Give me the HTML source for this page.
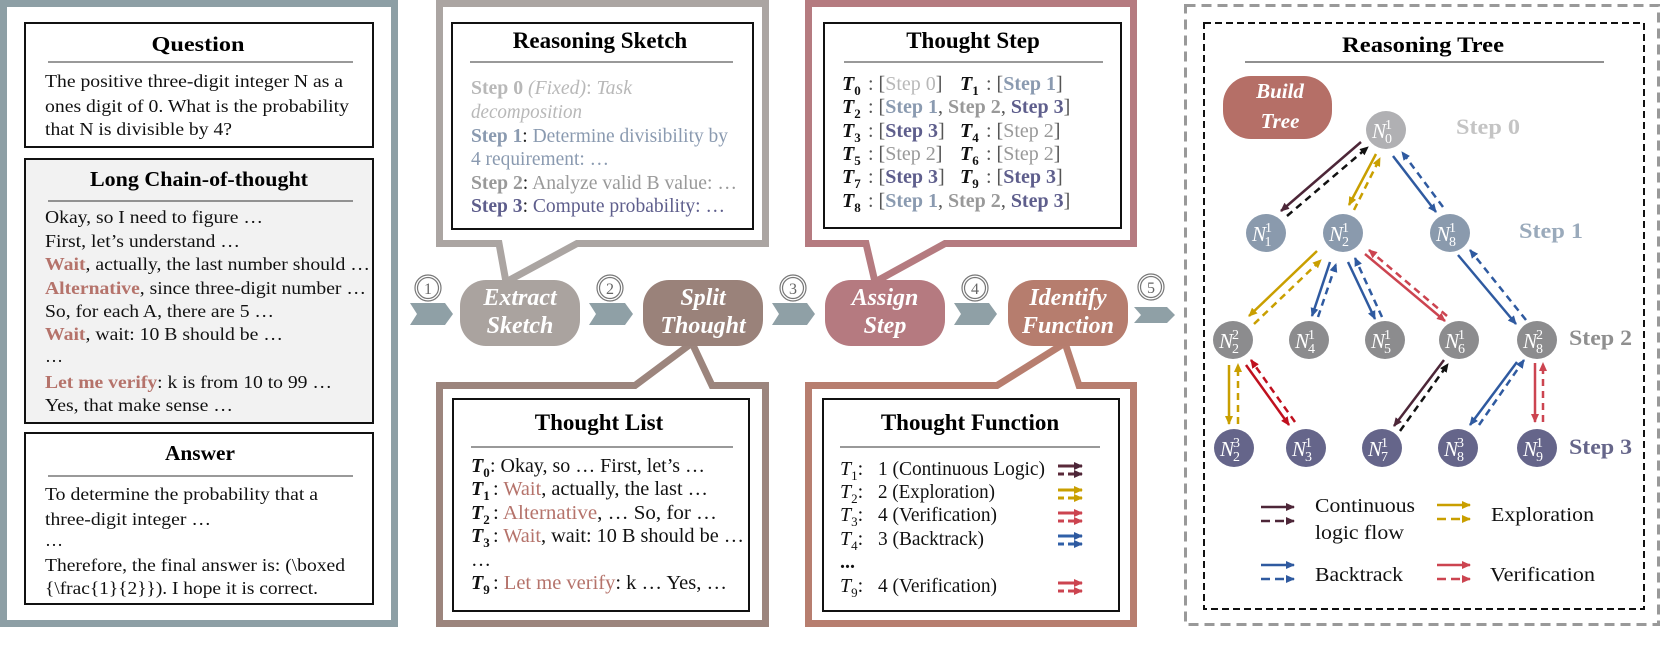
<!DOCTYPE html>
<html><head><meta charset="utf-8"><style>
html,body{margin:0;padding:0;background:#fff;}
svg{display:block;}
text{font-family:"Liberation Serif",serif;}
</style></head><body>
<svg width="1661" height="652" viewBox="0 0 1661 652" xmlns="http://www.w3.org/2000/svg">
<defs>
<marker id="mMar" markerWidth="10" markerHeight="10" refX="8" refY="5" orient="auto" markerUnits="userSpaceOnUse"><path d="M0,1 L9,5 L0,9 Z" fill="#4d2638"/></marker>
<marker id="mBlk" markerWidth="10" markerHeight="10" refX="8" refY="5" orient="auto" markerUnits="userSpaceOnUse"><path d="M0,1 L9,5 L0,9 Z" fill="#111"/></marker>
<marker id="mGold" markerWidth="10" markerHeight="10" refX="8" refY="5" orient="auto" markerUnits="userSpaceOnUse"><path d="M0,1 L9,5 L0,9 Z" fill="#c99f00"/></marker>
<marker id="mBlue" markerWidth="10" markerHeight="10" refX="8" refY="5" orient="auto" markerUnits="userSpaceOnUse"><path d="M0,1 L9,5 L0,9 Z" fill="#2f5aa0"/></marker>
<marker id="mRed" markerWidth="10" markerHeight="10" refX="8" refY="5" orient="auto" markerUnits="userSpaceOnUse"><path d="M0,1 L9,5 L0,9 Z" fill="#cc4450"/></marker>
<marker id="mRed2" markerWidth="10" markerHeight="10" refX="8" refY="5" orient="auto" markerUnits="userSpaceOnUse"><path d="M0,1 L9,5 L0,9 Z" fill="#c0101e"/></marker>
</defs>

<!-- LEFT PANEL -->
<rect x="3.5" y="3.5" width="391" height="620" fill="#fff" stroke="#8d9fa5" stroke-width="7"/>
<rect x="25" y="23" width="348" height="124" fill="#fff" stroke="#111" stroke-width="2"/>
<text x="198" y="51" text-anchor="middle" font-size="21" font-weight="bold" textLength="93" lengthAdjust="spacingAndGlyphs">Question</text>
<line x1="48" y1="62" x2="353" y2="62" stroke="#333" stroke-width="1"/>
<g font-size="18" fill="#111">
<text x="45" y="87" textLength="298" lengthAdjust="spacingAndGlyphs">The positive three-digit integer N as a</text>
<text x="45" y="112" textLength="304" lengthAdjust="spacingAndGlyphs">ones digit of 0. What is the probability</text>
<text x="45" y="135" textLength="187" lengthAdjust="spacingAndGlyphs">that N is divisible by 4?</text>
</g>
<rect x="25" y="159" width="348" height="264" fill="#f2f2f2" stroke="#111" stroke-width="2"/>
<text x="199" y="186" text-anchor="middle" font-size="21" font-weight="bold" textLength="218" lengthAdjust="spacingAndGlyphs">Long Chain-of-thought</text>
<line x1="48" y1="201" x2="353" y2="201" stroke="#333" stroke-width="1"/>
<g font-size="18" fill="#111">
<text x="45" y="223" textLength="218" lengthAdjust="spacingAndGlyphs">Okay, so I need to figure …</text>
<text x="45" y="247" textLength="195" lengthAdjust="spacingAndGlyphs">First, let’s understand …</text>
<text x="45" y="270" textLength="325" lengthAdjust="spacingAndGlyphs"><tspan fill="#b5736b" font-weight="bold">Wait</tspan>, actually, the last number should …</text>
<text x="45" y="294" textLength="321" lengthAdjust="spacingAndGlyphs"><tspan fill="#b5736b" font-weight="bold">Alternative</tspan>, since three-digit number …</text>
<text x="45" y="317" textLength="229" lengthAdjust="spacingAndGlyphs">So, for each A, there are 5 …</text>
<text x="45" y="340" textLength="238" lengthAdjust="spacingAndGlyphs"><tspan fill="#b5736b" font-weight="bold">Wait</tspan>, wait: 10 B should be …</text>
<text x="45" y="362">…</text>
<text x="45" y="388" textLength="287" lengthAdjust="spacingAndGlyphs"><tspan fill="#b5736b" font-weight="bold">Let me verify</tspan>: k is from 10 to 99 …</text>
<text x="45" y="411" textLength="188" lengthAdjust="spacingAndGlyphs">Yes, that make sense …</text>
</g>
<rect x="25" y="433" width="348" height="171" fill="#fff" stroke="#111" stroke-width="2"/>
<text x="200" y="460" text-anchor="middle" font-size="21" font-weight="bold" textLength="70" lengthAdjust="spacingAndGlyphs">Answer</text>
<line x1="48" y1="476" x2="353" y2="476" stroke="#333" stroke-width="1"/>
<g font-size="18" fill="#111">
<text x="45" y="500" textLength="273" lengthAdjust="spacingAndGlyphs">To determine the probability that a</text>
<text x="45" y="525" textLength="166" lengthAdjust="spacingAndGlyphs">three-digit integer …</text>
<text x="45" y="546">…</text>
<text x="45" y="571" textLength="300" lengthAdjust="spacingAndGlyphs">Therefore, the final answer is: (\boxed</text>
<text x="45" y="594" textLength="273" lengthAdjust="spacingAndGlyphs">{\frac{1}{2}}). I hope it is correct.</text>
</g>

<!-- FRAMES WITH TAILS -->
<path d="M499,243.5 L439.5,243.5 L439.5,3.5 L765.5,3.5 L765.5,243.5 L577,243.5 L506,282 Z" fill="#fff" stroke="#aba5a2" stroke-width="7"/>
<path d="M866,243.5 L808.5,243.5 L808.5,3.5 L1133.5,3.5 L1133.5,243.5 L945,243.5 L875,282 Z" fill="#fff" stroke="#b57b80" stroke-width="7"/>
<path d="M635,385.5 L439.5,385.5 L439.5,623.5 L765.5,623.5 L765.5,385.5 L712,385.5 L692,343 Z" fill="#fff" stroke="#9c857d" stroke-width="7"/>
<path d="M997,385.5 L808.5,385.5 L808.5,623.5 L1133.5,623.5 L1133.5,385.5 L1079,385.5 L1065,343 Z" fill="#fff" stroke="#b77e6f" stroke-width="7"/>

<!-- Reasoning Sketch -->
<rect x="452" y="23" width="301" height="206" fill="#fff" stroke="#111" stroke-width="2"/>
<text x="600" y="48" text-anchor="middle" font-size="23" font-weight="bold">Reasoning Sketch</text>
<line x1="470" y1="62" x2="733" y2="62" stroke="#333" stroke-width="1"/>
<g font-size="20">
<text x="471" y="94" textLength="161" lengthAdjust="spacingAndGlyphs" fill="#b8b8b8"><tspan font-weight="bold">Step 0</tspan> <tspan font-style="italic">(Fixed)</tspan>: <tspan font-style="italic">Task</tspan></text>
<text x="471" y="118" textLength="111" lengthAdjust="spacingAndGlyphs" fill="#b8b8b8" font-style="italic">decomposition</text>
<text x="471" y="142" textLength="257" lengthAdjust="spacingAndGlyphs" fill="#8a9ab0"><tspan font-weight="bold">Step 1</tspan><tspan fill="#222">:</tspan> Determine divisibility by</text>
<text x="471" y="165" textLength="138" lengthAdjust="spacingAndGlyphs" fill="#8a9ab0">4 requirement: …</text>
<text x="471" y="189" textLength="266" lengthAdjust="spacingAndGlyphs" fill="#999"><tspan font-weight="bold">Step 2</tspan><tspan fill="#222">:</tspan> Analyze valid B value: …</text>
<text x="471" y="212" textLength="254" lengthAdjust="spacingAndGlyphs" fill="#5e5e8c"><tspan font-weight="bold">Step 3</tspan><tspan fill="#222">:</tspan> Compute probability: …</text>
</g>

<!-- Thought Step -->
<rect x="824" y="23" width="297" height="205" fill="#fff" stroke="#111" stroke-width="2"/>
<text x="973" y="48" text-anchor="middle" font-size="23" font-weight="bold">Thought Step</text>
<line x1="844" y1="62" x2="1103" y2="62" stroke="#333" stroke-width="1"/>
<g font-size="20" fill="#555">
<g font-weight="bold" font-style="italic" fill="#111">
<text x="842" y="90">T<tspan font-size="13" dy="5" font-style="normal">0</tspan></text>
<text x="960" y="90">T<tspan font-size="13" dy="5" font-style="normal">1</tspan></text>
<text x="842" y="113">T<tspan font-size="13" dy="5" font-style="normal">2</tspan></text>
<text x="842" y="137">T<tspan font-size="13" dy="5" font-style="normal">3</tspan></text>
<text x="960" y="137">T<tspan font-size="13" dy="5" font-style="normal">4</tspan></text>
<text x="842" y="160">T<tspan font-size="13" dy="5" font-style="normal">5</tspan></text>
<text x="960" y="160">T<tspan font-size="13" dy="5" font-style="normal">6</tspan></text>
<text x="842" y="183">T<tspan font-size="13" dy="5" font-style="normal">7</tspan></text>
<text x="960" y="183">T<tspan font-size="13" dy="5" font-style="normal">9</tspan></text>
<text x="842" y="207">T<tspan font-size="13" dy="5" font-style="normal">8</tspan></text>
</g>
<text x="868" y="90">: [<tspan fill="#b8b8b8">Step 0</tspan>]</text>
<text x="986" y="90">: [<tspan fill="#8a9ab0" font-weight="bold">Step 1</tspan>]</text>
<text x="868" y="113">: [<tspan fill="#8a9ab0" font-weight="bold">Step 1</tspan>, <tspan fill="#999" font-weight="bold">Step 2</tspan>, <tspan fill="#5e5e8c" font-weight="bold">Step 3</tspan>]</text>
<text x="868" y="137">: [<tspan fill="#5e5e8c" font-weight="bold">Step 3</tspan>]</text>
<text x="986" y="137">: [<tspan fill="#999">Step 2</tspan>]</text>
<text x="868" y="160">: [<tspan fill="#999">Step 2</tspan>]</text>
<text x="986" y="160">: [<tspan fill="#999">Step 2</tspan>]</text>
<text x="868" y="183">: [<tspan fill="#5e5e8c" font-weight="bold">Step 3</tspan>]</text>
<text x="986" y="183">: [<tspan fill="#5e5e8c" font-weight="bold">Step 3</tspan>]</text>
<text x="868" y="207">: [<tspan fill="#8a9ab0" font-weight="bold">Step 1</tspan>,  <tspan fill="#999" font-weight="bold">Step 2</tspan>, <tspan fill="#5e5e8c" font-weight="bold">Step 3</tspan>]</text>
</g>

<!-- Thought List -->
<rect x="453" y="399" width="296" height="212" fill="#fff" stroke="#111" stroke-width="2"/>
<text x="599" y="430" text-anchor="middle" font-size="23" font-weight="bold">Thought List</text>
<line x1="471" y1="447" x2="733" y2="447" stroke="#333" stroke-width="1"/>
<g font-size="20" fill="#111">
<g font-weight="bold" font-style="italic">
<text x="471" y="472">T<tspan font-size="13" dy="5" font-style="normal">0</tspan></text>
<text x="471" y="495">T<tspan font-size="13" dy="5" font-style="normal">1</tspan></text>
<text x="471" y="519">T<tspan font-size="13" dy="5" font-style="normal">2</tspan></text>
<text x="471" y="542">T<tspan font-size="13" dy="5" font-style="normal">3</tspan></text>
<text x="471" y="589">T<tspan font-size="13" dy="5" font-style="normal">9</tspan></text>
</g>
<text x="490" y="472" textLength="215" lengthAdjust="spacingAndGlyphs">: Okay, so … First, let’s …</text>
<text x="493" y="495" textLength="215" lengthAdjust="spacingAndGlyphs">: <tspan fill="#b5736b">Wait</tspan>, actually, the last …</text>
<text x="493" y="519" textLength="224" lengthAdjust="spacingAndGlyphs">: <tspan fill="#b5736b">Alternative</tspan>,  … So, for …</text>
<text x="493" y="542" textLength="251" lengthAdjust="spacingAndGlyphs">: <tspan fill="#b5736b">Wait</tspan>, wait: 10 B should be …</text>
<text x="471" y="566">…</text>
<text x="493" y="589" textLength="234" lengthAdjust="spacingAndGlyphs">: <tspan fill="#b5736b">Let me verify</tspan>: k … Yes, …</text>
</g>

<!-- Thought Function -->
<rect x="823" y="399" width="296" height="212" fill="#fff" stroke="#111" stroke-width="2"/>
<text x="970" y="430" text-anchor="middle" font-size="23" font-weight="bold">Thought Function</text>
<line x1="840" y1="447" x2="1100" y2="447" stroke="#333" stroke-width="1"/>
<g font-size="20" fill="#111">
<g font-style="italic">
<text x="840" y="475">T<tspan font-size="13" dy="5" font-style="normal">1</tspan><tspan dy="-5" font-style="normal">:</tspan></text>
<text x="840" y="498">T<tspan font-size="13" dy="5" font-style="normal">2</tspan><tspan dy="-5" font-style="normal">:</tspan></text>
<text x="840" y="521">T<tspan font-size="13" dy="5" font-style="normal">3</tspan><tspan dy="-5" font-style="normal">:</tspan></text>
<text x="840" y="545">T<tspan font-size="13" dy="5" font-style="normal">4</tspan><tspan dy="-5" font-style="normal">:</tspan></text>
<text x="840" y="592">T<tspan font-size="13" dy="5" font-style="normal">9</tspan><tspan dy="-5" font-style="normal">:</tspan></text>
</g>
<text x="878" y="475" textLength="167" lengthAdjust="spacingAndGlyphs">1 (Continuous Logic)</text>
<text x="878" y="498" textLength="117" lengthAdjust="spacingAndGlyphs">2 (Exploration)</text>
<text x="878" y="521" textLength="119" lengthAdjust="spacingAndGlyphs">4 (Verification)</text>
<text x="878" y="545" textLength="106" lengthAdjust="spacingAndGlyphs">3 (Backtrack)</text>
<text x="840" y="568" font-weight="bold">...</text>
<text x="878" y="592" textLength="119" lengthAdjust="spacingAndGlyphs">4 (Verification)</text>
</g>
<g stroke-width="3">
<g stroke="#5a2a3a"><line x1="1058" y1="466" x2="1082" y2="466" marker-end="url(#mMar)"/><line x1="1058" y1="474" x2="1082" y2="474" stroke-dasharray="6,4" marker-end="url(#mMar)"/></g>
<g stroke="#c99f00"><line x1="1058" y1="490" x2="1082" y2="490" marker-end="url(#mGold)"/><line x1="1058" y1="498" x2="1082" y2="498" stroke-dasharray="6,4" marker-end="url(#mGold)"/></g>
<g stroke="#cc4450"><line x1="1058" y1="513" x2="1082" y2="513" marker-end="url(#mRed)"/><line x1="1058" y1="521" x2="1082" y2="521" stroke-dasharray="6,4" marker-end="url(#mRed)"/></g>
<g stroke="#3060a8"><line x1="1058" y1="536" x2="1082" y2="536" marker-end="url(#mBlue)"/><line x1="1058" y1="544" x2="1082" y2="544" stroke-dasharray="6,4" marker-end="url(#mBlue)"/></g>
<g stroke="#cc4450"><line x1="1058" y1="583" x2="1082" y2="583" marker-end="url(#mRed)"/><line x1="1058" y1="591" x2="1082" y2="591" stroke-dasharray="6,4" marker-end="url(#mRed)"/></g>
</g>

<!-- PIPELINE NODES -->
<g fill="#8fa0a6">
<path d="M410,303 L445,303 L453,314 L445,325 L410,325 L417,314 Z"/>
<path d="M589,303 L625,303 L633,314 L625,325 L589,325 L596,314 Z"/>
<path d="M772,303 L807,303 L815,314 L807,325 L772,325 L779,314 Z"/>
<path d="M954,303 L989,303 L997,314 L989,325 L954,325 L961,314 Z"/>
<path d="M1134,307 L1167,307 L1175,315 L1167,323 L1134,323 L1141,315 Z"/>
</g>
<g fill="none" stroke="#777" stroke-width="1.2">
<circle cx="428" cy="288" r="13"/><circle cx="428" cy="288" r="10.5"/>
<circle cx="610" cy="288" r="13"/><circle cx="610" cy="288" r="10.5"/>
<circle cx="793" cy="288" r="13"/><circle cx="793" cy="288" r="10.5"/>
<circle cx="975" cy="288" r="13"/><circle cx="975" cy="288" r="10.5"/>
<circle cx="1151" cy="287" r="13"/><circle cx="1151" cy="287" r="10.5"/>
</g>
<g font-size="16" fill="#666" text-anchor="middle" font-family="Liberation Sans">
<text x="428" y="294">1</text><text x="610" y="294">2</text><text x="793" y="294">3</text><text x="975" y="294">4</text><text x="1151" y="293">5</text>
</g>
<rect x="460" y="280" width="120" height="66" rx="26" fill="#aaa39f"/>
<rect x="643" y="280" width="120" height="66" rx="26" fill="#9a827a"/>
<rect x="825" y="280" width="120" height="66" rx="26" fill="#b57a80"/>
<rect x="1008" y="280" width="120" height="66" rx="26" fill="#b67d6e"/>
<g fill="#fff" font-size="24" font-style="italic" font-weight="bold" text-anchor="middle">
<text x="520" y="305">Extract</text><text x="520" y="333">Sketch</text>
<text x="703" y="305">Split</text><text x="703" y="333">Thought</text>
<text x="885" y="305">Assign</text><text x="885" y="333">Step</text>
<text x="1068" y="305">Identify</text><text x="1068" y="333">Function</text>
</g>

<!-- REASONING TREE -->
<rect x="1185.5" y="5.5" width="473" height="619" fill="none" stroke="#999" stroke-width="3" stroke-dasharray="10,6"/>
<rect x="1204" y="23" width="440" height="586" fill="none" stroke="#111" stroke-width="2" stroke-dasharray="7,4"/>
<text x="1423" y="52" text-anchor="middle" font-size="22" font-weight="bold" textLength="162" lengthAdjust="spacingAndGlyphs">Reasoning Tree</text>
<line x1="1245" y1="62" x2="1604" y2="62" stroke="#222" stroke-width="1"/>
<rect x="1223" y="76" width="109" height="63" rx="28" fill="#b56f67"/>
<g fill="#fff" font-size="21" font-style="italic" font-weight="bold" text-anchor="middle">
<text x="1280" y="98">Build</text><text x="1280" y="128">Tree</text>
</g>

<g stroke-width="2.5" fill="none">
<!-- N0-N1 -->
<line x1="1361" y1="142" x2="1281" y2="211" stroke="#4d2638" marker-end="url(#mMar)"/>
<line x1="1287" y1="216" x2="1368" y2="147" stroke="#111" stroke-dasharray="7,5" marker-end="url(#mBlk)"/>
<!-- N0-N2 -->
<line x1="1376" y1="154" x2="1349" y2="205" stroke="#c99f00" marker-end="url(#mGold)"/>
<line x1="1354" y1="210" x2="1380" y2="158" stroke="#c99f00" stroke-dasharray="7,5" marker-end="url(#mGold)"/>
<!-- N0-N8 -->
<line x1="1393" y1="156" x2="1436" y2="212" stroke="#2f5aa0" marker-end="url(#mBlue)"/>
<line x1="1443" y1="207" x2="1402" y2="152" stroke="#2f5aa0" stroke-dasharray="7,5" marker-end="url(#mBlue)"/>
<!-- N2-N22 -->
<line x1="1317" y1="251" x2="1249" y2="316" stroke="#c99f00" marker-end="url(#mGold)"/>
<line x1="1254" y1="324" x2="1321" y2="260" stroke="#c99f00" stroke-dasharray="7,5" marker-end="url(#mGold)"/>
<!-- N2-N4 -->
<line x1="1330" y1="262" x2="1312" y2="316" stroke="#2f5aa0" marker-end="url(#mBlue)"/>
<line x1="1318" y1="317" x2="1336" y2="264" stroke="#2f5aa0" stroke-dasharray="7,5" marker-end="url(#mBlue)"/>
<!-- N2-N5 -->
<line x1="1348" y1="262" x2="1375" y2="319" stroke="#2f5aa0" marker-end="url(#mBlue)"/>
<line x1="1382" y1="317" x2="1355" y2="258" stroke="#2f5aa0" stroke-dasharray="7,5" marker-end="url(#mBlue)"/>
<!-- N2-N6 -->
<line x1="1365" y1="254" x2="1445" y2="321" stroke="#cc4450" marker-end="url(#mRed)"/>
<line x1="1447" y1="316" x2="1369" y2="250" stroke="#cc4450" stroke-dasharray="7,5" marker-end="url(#mRed)"/>
<!-- N8-N82 -->
<line x1="1458" y1="255" x2="1516" y2="324" stroke="#2f5aa0" marker-end="url(#mBlue)"/>
<line x1="1526" y1="320" x2="1470" y2="250" stroke="#2f5aa0" stroke-dasharray="7,5" marker-end="url(#mBlue)"/>
<!-- N22-N23 -->
<line x1="1229" y1="365" x2="1229" y2="424" stroke="#c99f00" marker-end="url(#mGold)"/>
<line x1="1238" y1="424" x2="1238" y2="364" stroke="#c99f00" stroke-dasharray="7,5" marker-end="url(#mGold)"/>
<!-- N22-N3 -->
<line x1="1246" y1="365" x2="1289" y2="425" stroke="#c0101e" marker-end="url(#mRed2)"/>
<line x1="1295" y1="422" x2="1251" y2="360" stroke="#c0101e" stroke-dasharray="7,5" marker-end="url(#mRed2)"/>
<!-- N6-N7 -->
<line x1="1444" y1="360" x2="1394" y2="426" stroke="#4d2638" marker-end="url(#mMar)"/>
<line x1="1400" y1="431" x2="1448" y2="364" stroke="#111" stroke-dasharray="7,5" marker-end="url(#mBlk)"/>
<!-- N82-N83 -->
<line x1="1517" y1="362" x2="1470" y2="425" stroke="#2f5aa0" marker-end="url(#mBlue)"/>
<line x1="1479" y1="425" x2="1524" y2="360" stroke="#2f5aa0" stroke-dasharray="7,5" marker-end="url(#mBlue)"/>
<!-- N82-N9 -->
<line x1="1535" y1="363" x2="1535" y2="422" stroke="#cc4450" marker-end="url(#mRed)"/>
<line x1="1543" y1="422" x2="1543" y2="363" stroke="#cc4450" stroke-dasharray="7,5" marker-end="url(#mRed)"/>
</g>

<g>
<ellipse cx="1386" cy="130" rx="20" ry="19" fill="#b0b0b3"/>
<ellipse cx="1266" cy="233" rx="20" ry="19" fill="#8a9aad"/>
<ellipse cx="1343" cy="233" rx="20" ry="19" fill="#8a9aad"/>
<ellipse cx="1450" cy="233" rx="20" ry="19" fill="#8a9aad"/>
<ellipse cx="1233" cy="340" rx="20" ry="19" fill="#8c8c8e"/>
<ellipse cx="1309" cy="340" rx="20" ry="19" fill="#8c8c8e"/>
<ellipse cx="1385" cy="340" rx="20" ry="19" fill="#8c8c8e"/>
<ellipse cx="1459" cy="340" rx="20" ry="19" fill="#8c8c8e"/>
<ellipse cx="1537" cy="340" rx="20" ry="19" fill="#8c8c8e"/>
<ellipse cx="1234" cy="448" rx="20" ry="19" fill="#65658a"/>
<ellipse cx="1306" cy="448" rx="20" ry="19" fill="#65658a"/>
<ellipse cx="1382" cy="448" rx="20" ry="19" fill="#65658a"/>
<ellipse cx="1458" cy="448" rx="20" ry="19" fill="#65658a"/>
<ellipse cx="1537" cy="448" rx="20" ry="19" fill="#65658a"/>
</g>
<g fill="#fff" font-size="21" font-style="italic">
<text x="1372" y="138">N<tspan font-size="14" font-style="normal" dx="-1" dy="-9">1</tspan><tspan font-size="14" font-style="normal" dx="-7" dy="14">0</tspan></text>
<text x="1252" y="241">N<tspan font-size="14" font-style="normal" dx="-1" dy="-9">1</tspan><tspan font-size="14" font-style="normal" dx="-7" dy="14">1</tspan></text>
<text x="1329" y="241">N<tspan font-size="14" font-style="normal" dx="-1" dy="-9">1</tspan><tspan font-size="14" font-style="normal" dx="-7" dy="14">2</tspan></text>
<text x="1436" y="241">N<tspan font-size="14" font-style="normal" dx="-1" dy="-9">1</tspan><tspan font-size="14" font-style="normal" dx="-7" dy="14">8</tspan></text>
<text x="1219" y="348">N<tspan font-size="14" font-style="normal" dx="-1" dy="-9">2</tspan><tspan font-size="14" font-style="normal" dx="-7" dy="14">2</tspan></text>
<text x="1295" y="348">N<tspan font-size="14" font-style="normal" dx="-1" dy="-9">1</tspan><tspan font-size="14" font-style="normal" dx="-7" dy="14">4</tspan></text>
<text x="1371" y="348">N<tspan font-size="14" font-style="normal" dx="-1" dy="-9">1</tspan><tspan font-size="14" font-style="normal" dx="-7" dy="14">5</tspan></text>
<text x="1445" y="348">N<tspan font-size="14" font-style="normal" dx="-1" dy="-9">1</tspan><tspan font-size="14" font-style="normal" dx="-7" dy="14">6</tspan></text>
<text x="1523" y="348">N<tspan font-size="14" font-style="normal" dx="-1" dy="-9">2</tspan><tspan font-size="14" font-style="normal" dx="-7" dy="14">8</tspan></text>
<text x="1220" y="456">N<tspan font-size="14" font-style="normal" dx="-1" dy="-9">3</tspan><tspan font-size="14" font-style="normal" dx="-7" dy="14">2</tspan></text>
<text x="1292" y="456">N<tspan font-size="14" font-style="normal" dx="-1" dy="-9">1</tspan><tspan font-size="14" font-style="normal" dx="-7" dy="14">3</tspan></text>
<text x="1368" y="456">N<tspan font-size="14" font-style="normal" dx="-1" dy="-9">1</tspan><tspan font-size="14" font-style="normal" dx="-7" dy="14">7</tspan></text>
<text x="1444" y="456">N<tspan font-size="14" font-style="normal" dx="-1" dy="-9">3</tspan><tspan font-size="14" font-style="normal" dx="-7" dy="14">8</tspan></text>
<text x="1523" y="456">N<tspan font-size="14" font-style="normal" dx="-1" dy="-9">1</tspan><tspan font-size="14" font-style="normal" dx="-7" dy="14">9</tspan></text>
</g>
<g font-size="22" font-weight="bold">
<text x="1456" y="134" fill="#c4c4c4" textLength="64" lengthAdjust="spacingAndGlyphs">Step 0</text>
<text x="1519" y="238" fill="#9aaabb" textLength="64" lengthAdjust="spacingAndGlyphs">Step 1</text>
<text x="1569" y="345" fill="#8f8f8f" textLength="63" lengthAdjust="spacingAndGlyphs">Step 2</text>
<text x="1569" y="454" fill="#66668a" textLength="63" lengthAdjust="spacingAndGlyphs">Step 3</text>
</g>

<!-- Legend -->
<g stroke-width="2.5">
<line x1="1261" y1="507" x2="1294" y2="507" stroke="#4d2638" marker-end="url(#mMar)"/>
<line x1="1261" y1="521" x2="1294" y2="521" stroke="#4d2638" stroke-dasharray="9,5" marker-end="url(#mMar)"/>
<line x1="1437" y1="505" x2="1470" y2="505" stroke="#c99f00" marker-end="url(#mGold)"/>
<line x1="1437" y1="519" x2="1470" y2="519" stroke="#c99f00" stroke-dasharray="9,5" marker-end="url(#mGold)"/>
<line x1="1261" y1="565" x2="1294" y2="565" stroke="#2f5aa0" marker-end="url(#mBlue)"/>
<line x1="1261" y1="579" x2="1294" y2="579" stroke="#2f5aa0" stroke-dasharray="9,5" marker-end="url(#mBlue)"/>
<line x1="1437" y1="565" x2="1470" y2="565" stroke="#cc4450" marker-end="url(#mRed)"/>
<line x1="1437" y1="579" x2="1470" y2="579" stroke="#cc4450" stroke-dasharray="9,5" marker-end="url(#mRed)"/>
</g>
<g font-size="20" fill="#111">
<text x="1315" y="512" textLength="100" lengthAdjust="spacingAndGlyphs">Continuous</text>
<text x="1315" y="539" textLength="89" lengthAdjust="spacingAndGlyphs">logic flow</text>
<text x="1491" y="521" textLength="103" lengthAdjust="spacingAndGlyphs">Exploration</text>
<text x="1315" y="581" textLength="88" lengthAdjust="spacingAndGlyphs">Backtrack</text>
<text x="1490" y="581" textLength="105" lengthAdjust="spacingAndGlyphs">Verification</text>
</g>
</svg>
</body></html>
